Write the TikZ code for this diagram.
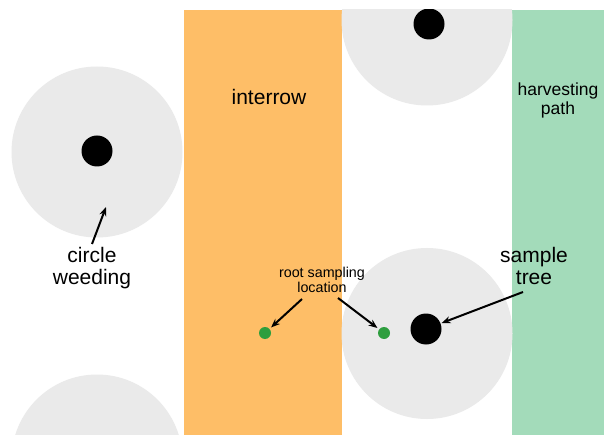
\documentclass[tikz,border=0pt]{standalone}
\usepackage{fontspec}
\setmainfont{Liberation Sans}
\usetikzlibrary{arrows.meta}
\definecolor{interrowc}{HTML}{FEBE67}
\definecolor{pathc}{HTML}{A3DBBA}
\definecolor{weedc}{HTML}{EAEAEA}
\definecolor{rootc}{HTML}{2E9E3E}
\tikzset{
  weedcircle/.style={circle, fill=weedc, minimum size=171pt, inner sep=0pt},
  treedot/.style={circle, fill=black, minimum size=31pt, inner sep=0pt},
  rootdot/.style={circle, fill=rootc, minimum size=12pt, inner sep=0pt},
  biglabel/.style={align=center, font=\fontsize{21}{22}\selectfont, inner sep=0pt},
  midlabel/.style={align=center, font=\fontsize{17.5}{19}\selectfont, inner sep=0pt},
  smalllabel/.style={align=center, font=\fontsize{14.3}{15.5}\selectfont, inner sep=0pt},
  pointer/.style={-{Stealth[length=9pt,width=7pt]}, line width=2pt, black}
}
\begin{document}
\begin{tikzpicture}[x=1pt,y=-1pt]
\useasboundingbox (0,0) rectangle (604,435);
\fill[white] (0,0) rectangle (604,435);
\begin{scope}
\clip (0,10) rectangle (604,435);
\fill[interrowc] (184,10) rectangle (342,435);
\fill[pathc] (512,10) rectangle (604,435);
\node[weedcircle] (c1) at (97,152) {};
\node[weedcircle] (c2) at (427,20) {};
\node[weedcircle] (c3) at (427,333.5) {};
\node[weedcircle] (c4) at (97,460) {};
\node[treedot] (t1) at (97,151) {};
\node[treedot] (t2) at (429,24) {};
\node[treedot] (t3) at (426,329) {};
\end{scope}
\node[rootdot] (r1) at (265,333) {};
\node[rootdot] (r2) at (384,333) {};
\node[biglabel] (interrow) at (269,97) {interrow};
\node[midlabel] (harvest) at (558,100) {harvesting\\path};
\node[biglabel] (weeding) at (92,268) {circle\\weeding};
\node[biglabel] (sample) at (534,266) {sample\\tree};
\node[smalllabel] (rootlab) at (322,280) {root sampling\\location};
\coordinate (wtail) at (92,244);
\coordinate (whead) at (106,207);
\coordinate (rtail1) at (302,299);
\coordinate (rtail2) at (338,298);
\coordinate (stail) at (523,292);
\draw[pointer] (wtail) -- (whead);
\draw[pointer, shorten >=2pt] (rtail1) -- (r1);
\draw[pointer, shorten >=2pt] (rtail2) -- (r2);
\draw[pointer, shorten >=1pt] (stail) -- (t3);
\end{tikzpicture}
\end{document}
